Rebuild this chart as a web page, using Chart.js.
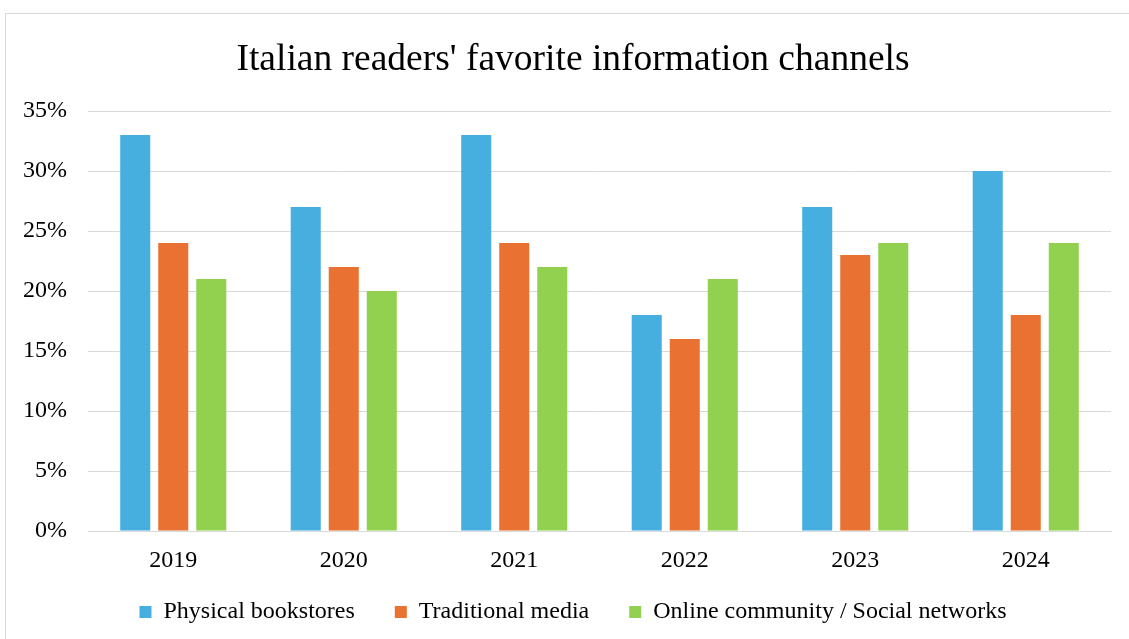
<!DOCTYPE html>
<html>
<head>
<meta charset="utf-8">
<script src="https://cdn.jsdelivr.net/npm/chart.js@4"></script>
<style>
  html, body { margin: 0; padding: 0; background: #fff; overflow: hidden; }
  #frame { position: absolute; left: 5px; top: 13px; width: 1140px; height: 640px; border: 1px solid #d9d9d9; }
  #myChart { display: block; }
</style>
</head>
<body>
<div id="frame"><canvas id="myChart" width="1140" height="640"></canvas></div>
<script>
// chart data
const years = ["2019", "2020", "2021", "2022", "2023", "2024"];
const bookstores = [33, 27, 33, 18, 27, 30];
const tradMedia = [24, 22, 24, 16, 23, 18];
const onlineSocial = [21, 20, 22, 21, 24, 24];
const yTicks = [0, 5, 10, 15, 20, 25, 30, 35];

const serif = "'Times New Roman', 'Liberation Serif', serif";

// labels may spill out of the (narrowed) axis boxes, so don't clip them
const noClip = (scale) => { scale._computeLabelArea = () => null; };

const ctx = document.getElementById('myChart').getContext("2d");
let myChart = new Chart(ctx, {
  type: 'bar',
  data: {
    labels: years,
    datasets: [
      { label: 'Physical bookstores', data: bookstores, backgroundColor: '#47AFE0' },
      { label: 'Traditional media', data: tradMedia, backgroundColor: '#E97132' },
      { label: 'Online community / Social networks', data: onlineSocial, backgroundColor: '#92D050' }
    ]
  },
  options: {
    responsive: false,
    animation: false,
    categoryPercentage: 0.669,
    barPercentage: 0.79,
    layout: { padding: { left: 29, right: 35, top: 0, bottom: 20 } },
    plugins: {
      title: {
        display: true,
        text: "Italian readers' favorite information channels",
        color: '#000',
        font: { family: serif, size: 37.5, weight: 'normal' },
        padding: { top: 24, bottom: 28 }
      },
      legend: {
        position: 'bottom',
        labels: {
          color: '#000',
          font: { family: serif, size: 24 },
          boxWidth: 12,
          boxHeight: 12,
          padding: 40
        }
      },
      tooltip: { enabled: false }
    },
    scales: {
      x: {
        afterFit: (scale) => { scale.height = 29; noClip(scale); },
        grid: { display: false },
        border: { color: '#d9d9d9' },
        ticks: { color: '#000', font: { family: serif, size: 24 }, padding: 7 }
      },
      y: {
        min: 0,
        max: 35,
        afterFit: (scale) => { scale.width = 53; noClip(scale); },
        afterBuildTicks: (scale) => { scale.ticks = yTicks.map(v => ({ value: v })); },
        grid: { color: '#d9d9d9', drawTicks: false },
        border: { display: false },
        ticks: {
          color: '#000',
          font: { family: serif, size: 24 },
          padding: 21,
          callback: (v) => v + '%'
        }
      }
    }
  }
});
</script>
</body>
</html>
